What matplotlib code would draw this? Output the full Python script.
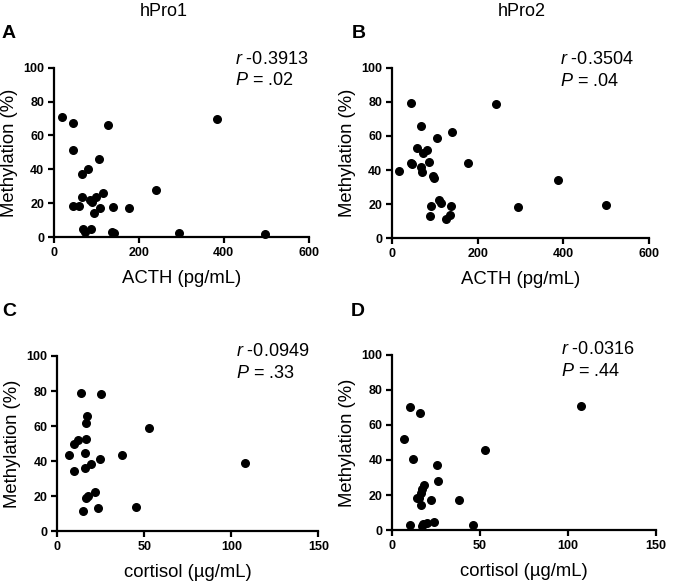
import numpy as np
import matplotlib
matplotlib.use('Agg')
import matplotlib.pyplot as plt

plt.rcParams['font.family'] = ['Liberation Sans', 'DejaVu Sans']
plt.rcParams['mathtext.fontset'] = 'custom'
plt.rcParams['mathtext.rm'] = 'Liberation Sans'
plt.rcParams['mathtext.it'] = 'Liberation Sans:italic'

# Panel A: hPro1 vs ACTH
acth_a = [18, 44, 127, 385, 45, 105, 80, 67, 240, 115, 67, 98, 84, 90, 44, 59,
          109, 138, 177, 95, 69, 72, 88, 136, 141, 294, 497]
meth_a = [70.7, 67.1, 66.3, 69.7, 51.6, 45.9, 40.4, 37.0, 28.0, 26.0, 23.6, 23.8,
          21.7, 20.9, 18.1, 18.1, 16.9, 17.7, 16.9, 14.2, 4.5, 2.8, 4.5, 3.1, 2.4, 2.6, 2.0]

# Panel B: hPro2 vs ACTH
acth_b = [17, 44, 44, 47, 68, 59, 72, 81, 68, 69, 86, 104, 139, 95, 97, 178, 242,
          109, 114, 91, 138, 88, 127, 135, 295, 387, 499]
meth_b = [39.3, 79.3, 44.1, 43.3, 65.6, 52.7, 49.8, 52.0, 41.6, 39.1, 44.7, 59.0,
          62.3, 36.3, 35.2, 43.9, 78.5, 22.7, 20.5, 19.1, 19.1, 12.9, 11.5, 13.5,
          18.2, 34.4, 19.3]

# Panel C: hPro1 vs cortisol
cort_c = [13.6, 25.3, 17.2, 16.7, 52.7, 16.3, 11.7, 9.4, 6.5, 15.7, 37.4, 24.7,
          19.3, 107.7, 15.9, 9.6, 21.8, 17.6, 16.7, 23.2, 45.4, 14.9]
meth_c = [79.1, 78.1, 65.6, 62.0, 58.7, 52.5, 52.1, 49.8, 43.5, 44.7, 43.7, 41.4,
          38.6, 39.2, 36.3, 34.4, 22.4, 20.2, 19.2, 13.1, 13.7, 11.4]

# Panel D: hPro2 vs cortisol
cort_d = [10.0, 15.6, 6.8, 12.0, 107.6, 52.9, 25.2, 25.8, 18.0, 17.1, 16.5, 13.9,
          15.4, 22.2, 16.3, 37.8, 9.9, 16.7, 17.6, 19.9, 23.5, 45.9]
meth_d = [70.0, 66.5, 51.8, 40.6, 70.9, 45.9, 37.2, 28.1, 26.0, 23.3, 21.4, 18.4,
          18.4, 17.1, 14.2, 17.1, 2.8, 2.5, 3.6, 4.4, 4.7, 3.0]

r_vals = ['-0.3913', '-0.3504', '-0.0949', '-0.0316']
p_vals = ['.02', '.04', '.33', '.44']
letters = ['A', 'B', 'C', 'D']
xlabels = ['ACTH (pg/mL)', 'ACTH (pg/mL)', 'cortisol (µg/mL)', 'cortisol (µg/mL)']
titles = ['hPro1', 'hPro2']

W, H = 697, 586
fig = plt.figure(figsize=(W / 100, H / 100), dpi=100)

# axes boxes in pixels: left, right, top, bottom
boxes = [(54, 308.7, 67.7, 237), (392, 649, 67.7, 238.3),
         (57.3, 318.3, 356, 531.3), (392.3, 655.8, 354.5, 530.3)]
# where the r / P lines start, in pixels: x, y of r line, y of P line
stat_pos = [(235, 59, 81), (560, 60, 82), (236, 351, 373), (561, 349, 371)]
xs = [acth_a, acth_b, cort_c, cort_d]
ys = [meth_a, meth_b, meth_c, meth_d]
xlims = [600, 600, 150, 150]
xticks = [[0, 200, 400, 600], [0, 200, 400, 600], [0, 50, 100, 150], [0, 50, 100, 150]]

for i in range(4):
    l, r, t, b = boxes[i]
    ax = fig.add_axes([l / W, 1 - b / H, (r - l) / W, (b - t) / H])
    ax.scatter(xs[i], ys[i], s=30, color='black', zorder=3, clip_on=False)
    ax.set_xlim(0, xlims[i])
    ax.set_ylim(0, 100)
    ax.set_xticks(xticks[i])
    ax.set_yticks([0, 20, 40, 60, 80, 100])
    for side in ['top', 'right']:
        ax.spines[side].set_visible(False)
    for side in ['left', 'bottom']:
        ax.spines[side].set_linewidth(1.6)
    ax.tick_params(width=1.6, length=4, labelsize=9, pad=3)
    for lab in ax.get_xticklabels() + ax.get_yticklabels():
        lab.set_fontweight('bold')
    ax.set_xlabel(xlabels[i], fontsize=13.3, labelpad=8)
    ax.set_ylabel('Methylation (%)', fontsize=13.3, labelpad=4)
    sx, ry, py = stat_pos[i]
    fig.text(sx / W, 1 - ry / H, r'$\it{r}$ ' + r_vals[i], fontsize=13, va='center', ha='left')
    fig.text(sx / W, 1 - py / H, r'$\it{P}$ = ' + p_vals[i], fontsize=13, va='center', ha='left')

# panel letters and column titles
letter_pos = [(2, 33), (352, 33), (2, 311), (351, 311)]
for (x, y), letter in zip(letter_pos, letters):
    fig.text(x / W, 1 - y / H, letter, fontsize=14, fontweight='bold', va='center', ha='left')
fig.text(164 / W, 1 - 11 / H, titles[0], fontsize=13, ha='center', va='center')
fig.text(522 / W, 1 - 12 / H, titles[1], fontsize=13, ha='center', va='center')

fig.savefig('out.png', dpi=100)
